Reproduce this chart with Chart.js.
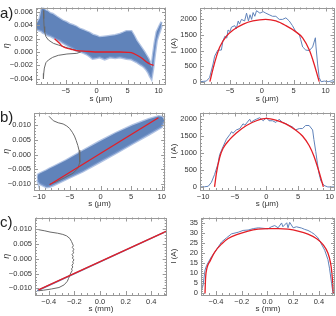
<!DOCTYPE html>
<html>
<head>
<meta charset="utf-8">
<script src="https://cdn.jsdelivr.net/npm/chart.js@4.4.0/dist/chart.umd.min.js"></script>
<style>
  html, body { margin: 0; padding: 0; background: #fff; }
  #wrap { position: relative; width: 336px; height: 316px; overflow: hidden; }
  canvas { position: absolute; }
  .tag { position: absolute; left: 0; font: 15px "Liberation Sans", Arial, sans-serif; line-height: 15px; color: #222; }
</style>
</head>
<body>
<div id="wrap">
  <canvas id="aL" width="168" height="105" style="left:0;top:0"></canvas>
  <canvas id="aR" width="168" height="105" style="left:168px;top:0"></canvas>
  <canvas id="bL" width="168" height="105" style="left:0;top:105px"></canvas>
  <canvas id="bR" width="168" height="105" style="left:168px;top:105px"></canvas>
  <canvas id="cL" width="168" height="106" style="left:0;top:210px"></canvas>
  <canvas id="cR" width="168" height="106" style="left:168px;top:210px"></canvas>
  <div class="tag" style="top:5px">a)</div>
  <div class="tag" style="top:109px">b)</div>
  <div class="tag" style="top:214px">c)</div>
</div>
<script>
// ---- data ----

// a) phase space: envelope of the particle cloud
const aCloudS = [-9.7, -9.2, -8.9, -8.7, -8.2, -7.9, -7.5, -7.1, -6.5, -6.0, -5.5, -4.95, -4.4, -3.8, -3.3, -2.8, -2.2, -1.7, -1.2, -0.65, 0, 0.5, 1.3, 2.15, 3.0, 3.76, 4.3, 4.8, 5.6, 6.0, 6.45, 6.9, 7.26, 7.7, 8.06, 8.35, 8.6, 8.85, 9.1, 9.4, 9.7, 10.0, 10.2, 10.5];
const aCloudTop = [0.0042, 0.0050, 0.0064, 0.0066, 0.0062, 0.0061, 0.0058, 0.0057, 0.0053, 0.0050, 0.0047, 0.0045, 0.0042, 0.0040, 0.0038, 0.0035, 0.0033, 0.0031, 0.0029, 0.0026, 0.0024, 0.0022, 0.0023, 0.0024, 0.0025, 0.0027, 0.0029, 0.0031, 0.0031, 0.0025, 0.0017, 0.0011, 0.0006, 0.0000, -0.00055, -0.0010, -0.0015, -0.0024, -0.0005, 0.0015, 0.0030, 0.0036, 0.0040, 0.0045];
const aCloudBot = [0.0034, 0.0032, 0.0031, 0.0029, 0.0027, 0.0025, 0.0024, 0.0022, 0.0019, 0.0017, 0.0014, 0.0011, 0.0008, 0.0005, 0.0002, 0.0001, -0.0001, -0.0003, -0.0006, -0.0010, -0.0009, -0.0008, -0.0011, -0.0008, -0.0009, -0.0008, -0.0009, -0.0010, -0.0011, -0.0013, -0.0015, -0.0018, -0.0020, -0.0023, -0.0027, -0.0031, -0.0036, -0.0040, -0.0026, -0.0003, 0.0017, 0.0026, 0.0031, 0.0040];
const aGrayS = [-8.6, -8.55, -8.5, -8.4, -8.2, -7.8, -7.0, -6.2, -5.0, -3.8, -3.0, -2.6, -3.2, -4.8, -6.2, -7.1, -7.8, -8.2, -8.45, -8.55, -8.6];
const aGrayEta = [0.0062, 0.0050, 0.0038, 0.0030, 0.0023, 0.0018, 0.0013, 0.00105, 0.0007, 0.00036, 0.00015, 0.0000, -0.0002, -0.0003, -0.0005, -0.0008, -0.0012, -0.0016, -0.0024, -0.0032, -0.0040];
const aFitS = [-6.8, -6.0, -5.6, -4.95, -4.1, -3.3, -1.7, 0.5, 3.76, 5.0, 5.6, 6.45, 7.26, 8.06, 8.6, 9.2];
const aFitEta = [0.0020, 0.0013, 0.0009, 0.0006, 0.0004, 0.00022, 0.0001, 0.0, 0.0, -0.00005, -0.0001, -0.00045, -0.0009, -0.0015, -0.0018, -0.0020];

// a) current profile
const aCurS = [-9.7, -9.2, -8.7, -8.2, -7.65, -7.4, -6.9, -6.35, -6.1, -5.8, -5.5, -5.3, -5.0, -4.77, -4.25, -4.0, -3.7, -3.5, -3.2, -2.7, -2.4, -2.1, -1.85, -1.6, -1.37, -1.1, -0.83, -0.3, 0.2, 0.63, 1.15, 1.68, 2.2, 2.73, 3.25, 3.77, 4.3, 4.8, 5.35, 5.9, 6.1, 6.4, 6.9, 7.45, 7.97, 8.4, 8.5, 8.75, 9.0, 9.3, 9.8, 10.4, 11.0, 11.4];
const aCurI = [0, 10, 20, 130, 570, 820, 1015, 1015, 1310, 1460, 1400, 1660, 1610, 1750, 1800, 1700, 1950, 1850, 2000, 1950, 2200, 1950, 2150, 2000, 2220, 2100, 2280, 2200, 2250, 2200, 2150, 2100, 2100, 2000, 2000, 2050, 1950, 1800, 1600, 1500, 1350, 1115, 1015, 1000, 1115, 1410, 1115, 570, 130, 0, 20, 0, 30, 0];
const aCurFitS = [-8.15, -7.65, -7.1, -6.6, -5.55, -4.5, -2.9, -1.4, 0.6, 2.2, 3.77, 5.35, 6.4, 7.45, 8.2, 8.75, 9.0];
const aCurFitI = [0, 420, 820, 1115, 1460, 1660, 1850, 1950, 2000, 1950, 1800, 1600, 1410, 1015, 570, 180, 0];

// b) phase space
const bCloudS = [-10.3, -10.2, -9.9, -8.8, -8.3, -7.7, -5.6, -2.9, -0.2, 2.5, 5.2, 7.85, 9.5, 10.0, 10.4];
const bCloudTop = [-0.0080, -0.0068, -0.0064, -0.0053, -0.0047, -0.0041, -0.0019, 0.0013, 0.0044, 0.0073, 0.0099, 0.0120, 0.0130, 0.0128, 0.0118];
const bCloudBot = [-0.0085, -0.0092, -0.0099, -0.0110, -0.0109, -0.0104, -0.0083, -0.0057, -0.0026, 0.0005, 0.0037, 0.0068, 0.0088, 0.0094, 0.0112];
const bGrayS = [-8.4, -7.7, -6.9, -6.1, -5.5, -5.05, -4.6, -4.25, -3.95, -3.7, -3.5, -3.4, -3.35, -3.4, -3.7, -4.5, -5.85, -7.2, -8.3];
const bGrayEta = [0.0130, 0.0115, 0.0108, 0.0104, 0.0097, 0.0089, 0.0076, 0.0063, 0.0047, 0.0031, 0.0015, 0.0000, -0.0013, -0.0026, -0.0047, -0.0063, -0.0078, -0.0092, -0.0100];
const bFitS = [-8.3, 9.45];
const bFitEta = [-0.0102, 0.0125];

// b) current profile
const bCurS = [-10.5, -9.8, -9.2, -8.7, -8.2, -7.66, -7.4, -6.87, -6.33, -5.8, -5.5, -5.3, -4.75, -4.2, -3.7, -3.4, -2.64, -2.4, -2.1, -1.6, -1.06, -0.5, 0, 0.4, 0.95, 1.5, 2.0, 2.55, 3.1, 3.6, 4.1, 4.6, 5.2, 5.7, 6.2, 6.75, 7.3, 7.5, 7.8, 8.07, 8.3, 8.6, 9.1, 9.7, 10.8];
const bCurI = [0, 5, 20, 135, 365, 680, 950, 1180, 1405, 1540, 1630, 1580, 1680, 1720, 1860, 1820, 1995, 1900, 1950, 1995, 2040, 1950, 2040, 1950, 1950, 1900, 1995, 1900, 1860, 1810, 1770, 1680, 1720, 1720, 1810, 1810, 1680, 1400, 1040, 680, 410, 180, 45, 0, 0];
const bCurFitS = [-8.2, -7.9, -7.4, -6.87, -5.8, -4.75, -3.16, -1.58, 0, 1.47, 3.05, 4.6, 5.7, 6.75, 7.5, 8.3, 9.0];
const bCurFitI = [0, 410, 860, 1130, 1400, 1590, 1810, 1950, 2020, 1970, 1860, 1680, 1500, 1220, 910, 455, 0];

// c) phase space
const cLineS = [-0.49, 0.53];
const cLineEta = [-0.0108, 0.0095];
const cFitS = [-0.48, 0.52];
const cFitEta = [-0.0105, 0.0093];
const cGrayS = [-0.48, -0.43, -0.39, -0.33, -0.29, -0.26, -0.235, -0.222, -0.214, -0.208, -0.216, -0.204, -0.212, -0.206, -0.218, -0.209, -0.215, -0.203, -0.213, -0.208, -0.219, -0.212, -0.222, -0.217, -0.228, -0.235, -0.245, -0.255, -0.28, -0.32, -0.38, -0.44, -0.48];
const cGrayEta = [0.0098, 0.0094, 0.0090, 0.0086, 0.0082, 0.0077, 0.0068, 0.0058, 0.0050, 0.0044, 0.0038, 0.0032, 0.0026, 0.0020, 0.0014, 0.0008, 0.0002, -0.0004, -0.0010, -0.0016, -0.0022, -0.0028, -0.0034, -0.0040, -0.0048, -0.0056, -0.0066, -0.0076, -0.0088, -0.0097, -0.0102, -0.0106, -0.0108];

// c) current profile
const cCurS = [-0.52, -0.5, -0.485, -0.473, -0.434, -0.408, -0.382, -0.356, -0.318, -0.279, -0.227, -0.189, -0.15, -0.11, -0.07, 0.005, 0.03, 0.057, 0.083, 0.11, 0.12, 0.15, 0.16, 0.173, 0.2, 0.225, 0.264, 0.29, 0.315, 0.341, 0.367, 0.393, 0.419, 0.445, 0.47, 0.483, 0.496, 0.509, 0.525];
const cCurI = [0, 4, 11.5, 13.8, 18.3, 20.5, 23, 25.5, 27.5, 29.5, 30.3, 31.2, 31.4, 32.1, 32.5, 32, 33, 33.6, 32.5, 34.9, 33, 35, 32.5, 35.2, 32.5, 33, 32.4, 31.7, 31.2, 30.3, 29.2, 27.5, 24.5, 21.4, 16.8, 12.2, 6.1, 0.3, 0];
const cCurFitS = [-0.485, -0.48, -0.47, -0.446, -0.408, -0.356, -0.305, -0.227, -0.15, -0.072, 0.005, 0.083, 0.16, 0.238, 0.315, 0.38, 0.432, 0.47, 0.49, 0.5, 0.508, 0.512];
const cCurFitI = [0, 8, 12.5, 16, 20.6, 24.5, 27.2, 29.4, 30.9, 31.8, 32.1, 32.1, 31.8, 30.9, 29.4, 27.2, 24.2, 20, 15.3, 10.7, 4, 0];

// ---- styling ----
Chart.defaults.font.family = '"Liberation Sans", Arial, sans-serif';
const BLUE = 'rgb(96,131,186)';
const FRINGE = 'rgba(125,155,208,0.6)';
const RED = 'rgb(228,30,38)';
const GRAY = 'rgb(105,105,105)';
const TXT = '#333';

const pts = (xs, ys) => xs.map((x, i) => ({ x, y: ys[i] }));
const fmt = (v, d) => {
  if (Math.abs(v) < 1e-9) return (0).toFixed(d);
  const s = Number(v).toFixed(d);
  return s[0] === '-' ? '\u2212' + s.slice(1) : s;
};

// major ticks at multiples of the step only
const stepTicks = (scale) => {
  const step = scale.options.ticks.stepSize;
  const k0 = Math.ceil(scale.min / step - 1e-6);
  const k1 = Math.floor(scale.max / step + 1e-6);
  const out = [];
  for (let k = k0; k <= k1; k++) out.push({ value: k * step });
  scale.ticks = out;
};

// Mathematica-like frame with inward ticks on all four sides
const frameTicks = {
  id: 'frameTicks',
  afterDatasetsDraw(chart, args, opts) {
    const { ctx, chartArea: a, scales } = chart;
    ctx.save();
    ctx.strokeStyle = '#999';
    ctx.lineWidth = 1;
    ctx.strokeRect(Math.round(a.left) + 0.5, Math.round(a.top) + 0.5,
      Math.round(a.right - a.left) - 1, Math.round(a.bottom - a.top) - 1);
    const marks = (scale, minor, horiz) => {
      const step = scale.options.ticks.stepSize;
      const k0 = Math.ceil(scale.min / minor - 1e-6);
      const k1 = Math.floor(scale.max / minor + 1e-6);
      ctx.beginPath();
      for (let k = k0; k <= k1; k++) {
        const v = k * minor;
        const r = v / step;
        const len = Math.abs(r - Math.round(r)) < 1e-6 ? 4 : 2;
        const p = Math.round(scale.getPixelForValue(v)) + 0.5;
        if (horiz) {
          ctx.moveTo(p, a.bottom); ctx.lineTo(p, a.bottom - len);
          ctx.moveTo(p, a.top); ctx.lineTo(p, a.top + len);
        } else {
          ctx.moveTo(a.left, p); ctx.lineTo(a.left + len, p);
          ctx.moveTo(a.right, p); ctx.lineTo(a.right - len, p);
        }
      }
      ctx.stroke();
    };
    marks(scales.x, opts.xMinor, true);
    marks(scales.y, opts.yMinor, false);
    ctx.restore();
  }
};

const axisX = (min, max, step, dec, title, h, titlePad) => ({
  type: 'linear', min, max,
  grid: { display: false, drawTicks: false }, border: { display: false },
  ticks: { stepSize: step, autoSkip: false, maxRotation: 0, padding: 2, color: TXT, font: { size: 7.5 }, callback: v => fmt(v, dec) },
  title: { display: true, text: title, color: TXT, font: { size: 8 }, padding: { top: 0, bottom: titlePad } },
  afterBuildTicks: stepTicks,
  afterFit: s => { s.height = h; }
});

const axisY = (min, max, step, dec, title, w, italic) => ({
  type: 'linear', min, max,
  grid: { display: false, drawTicks: false }, border: { display: false },
  ticks: { stepSize: step, autoSkip: false, padding: 3, color: TXT, font: { size: 7.5 }, callback: v => fmt(v, dec) },
  title: { display: true, text: title, color: TXT, font: { size: italic ? 9 : 8, style: italic ? 'italic' : 'normal' }, padding: { top: 1, bottom: 0 } },
  afterBuildTicks: stepTicks,
  afterFit: s => { s.width = w; }
});

const line = (xs, ys, color, width, order, smooth) => ({
  data: pts(xs, ys), borderColor: color, borderWidth: width, pointRadius: 0, fill: false, order,
  cubicInterpolationMode: smooth ? 'monotone' : 'default'
});

const cloud = (xs, top, bot) => [
  { data: pts(xs, top), borderColor: FRINGE, borderWidth: 2.5, pointRadius: 0, fill: false, order: 5 },
  { data: pts(xs, bot), borderColor: FRINGE, borderWidth: 2.5, pointRadius: 0, backgroundColor: BLUE, fill: '-1', order: 4 }
];

const makeChart = (id, datasets, x, y, padRight, xMinor, yMinor) => new Chart(document.getElementById(id), {
  type: 'line',
  data: { datasets },
  options: {
    responsive: false, animation: false, events: [],
    layout: { padding: { top: 1, right: padRight, left: 0, bottom: 0 } },
    plugins: { legend: { display: false }, tooltip: { enabled: false }, frameTicks: { xMinor, yMinor } },
    scales: { x, y }
  },
  plugins: [frameTicks]
});

// a)
makeChart('aL',
  [...cloud(aCloudS, aCloudTop, aCloudBot), line(aGrayS, aGrayEta, GRAY, 1, 1), line(aFitS, aFitEta, RED, 1.3, 0, true)],
  axisX(-9.8, 11.2, 5, 0, 's (\u03bcm)', 21, 1.2),
  axisY(-0.00479, 0.00666, 0.002, 3, '\u03b7', 36, true), 2, 1, 0.0005);
makeChart('aR',
  [line(aCurS, aCurI, BLUE, 1, 1), line(aCurFitS, aCurFitI, RED, 1.3, 0, true)],
  axisX(-9.7, 11.4, 5, 0, 's (\u03bcm)', 21, 1.2),
  axisY(-74, 2382, 500, 0, 'I (A)', 32, false), 1.5, 1, 100);

// b)
makeChart('bL',
  [...cloud(bCloudS, bCloudTop, bCloudBot), line(bGrayS, bGrayEta, GRAY, 1, 1), line(bFitS, bFitEta, RED, 1.3, 0)],
  axisX(-10.85, 10.55, 5, 0, 's (\u03bcm)', 20, 1),
  axisY(-0.01197, 0.01428, 0.005, 3, '\u03b7', 34, true), 1.3, 1, 0.001);
makeChart('bR',
  [line(bCurS, bCurI, BLUE, 1, 1), line(bCurFitS, bCurFitI, RED, 1.3, 0, true)],
  axisX(-10.5, 10.76, 5, 0, 's (\u03bcm)', 20, 1),
  axisY(-90, 2193, 500, 0, 'I (A)', 32, false), 1.5, 1, 100);

// c)
makeChart('cL',
  [line(cLineS, cLineEta, BLUE, 1.5, 2), line(cGrayS, cGrayEta, GRAY, 1, 1), line(cFitS, cFitEta, RED, 1.3, 0)],
  axisX(-0.507, 0.52, 0.2, 1, 's (mm)', 21, 2),
  axisY(-0.01222, 0.0139, 0.005, 3, '\u03b7', 35, true), 1.3, 0.05, 0.001);
makeChart('cR',
  [line(cCurS, cCurI, BLUE, 1, 1), line(cCurFitS, cCurFitI, RED, 1.3, 0, true)],
  axisX(-0.516, 0.525, 0.2, 1, 's (mm)', 21, 2),
  axisY(-0.78, 37.6, 5, 0, 'I (A)', 33, false), 1, 0.05, 1);
</script>
</body>
</html>
